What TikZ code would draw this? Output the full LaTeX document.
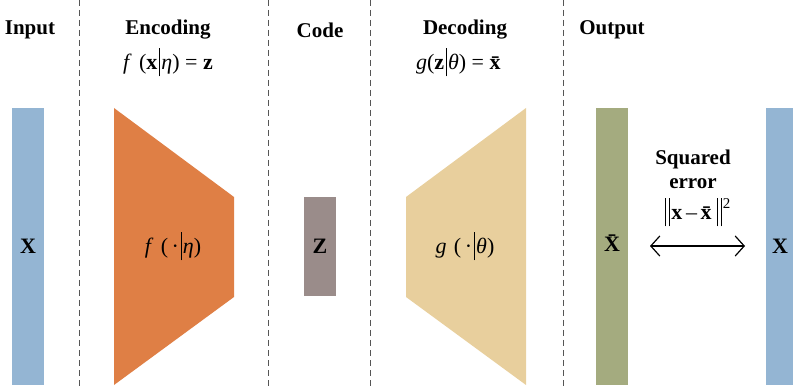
\documentclass[tikz,border=0pt]{standalone}
\usepackage{fontspec}
\setmainfont{Liberation Serif}
\usetikzlibrary{arrows.meta}
\definecolor{cblue}{HTML}{94B5D3}
\definecolor{corange}{HTML}{DF7F45}
\definecolor{cgray}{HTML}{9A8C8A}
\definecolor{csand}{HTML}{E8CF9D}
\definecolor{colive}{HTML}{A4AB7F}
\definecolor{cdash}{HTML}{555555}
\newcommand{\vbar}{\kern1.5pt\rule[-0.3em]{0.9pt}{1.3em}\kern1.5pt}
\newcommand{\dvbar}{\kern1.5pt\rule[-0.3em]{0.9pt}{1.3em}\kern3pt\rule[-0.3em]{0.9pt}{1.3em}\kern1.5pt}
\begin{document}
\begin{tikzpicture}[x=1pt,y=-1pt,
  title/.style={font=\fontsize{21}{24}\selectfont\bfseries, inner sep=0pt},
  formula/.style={font=\fontsize{22}{24}\selectfont, inner sep=0pt},
  bar/.style={draw=none, minimum width=32pt, inner sep=0pt, anchor=north west},
  sep/.style={draw=cdash, line width=0.8pt, dash pattern=on 6pt off 4pt},
  letter/.style={font=\fontsize{22}{24}\selectfont\bfseries, inner sep=0pt}]
\useasboundingbox (0,0) rectangle (793,390);
% separators
\foreach \x/\n in {79/a,268/b,370/c,563/d}{
  \coordinate (t\n) at (\x,0);
  \coordinate (b\n) at (\x,390);
  \draw[sep] (t\n) -- (b\n);
}
% titles
\node[title] (tin) at (30,30) {Input};
\node[title] (tenc) at (168,30) {Encoding};
\node[formula] (fenc) at (168,62) {\textit{f}\,\,(\textbf{x}\vbar\textit{η}) = \textbf{z}};
\node[title] (tcode) at (320,30) {Code};
\node[title] (tdec) at (465,30) {Decoding};
\node[formula] (fdec) at (460,62) {\textit{g}(\textbf{z}\vbar\textit{θ}) = \textbf{\=x}};
\node[title] (tout) at (612,30) {Output};
% bars
\node[bar, fill=cblue, minimum height=277pt] (inbar) at (12,108) {};
\node[bar, fill=cgray, minimum height=99pt] (codebar) at (304,197) {};
\node[bar, fill=colive, minimum height=277pt] (outbar) at (596,108) {};
\node[bar, fill=cblue, minimum height=277pt] (rbar) at (766,108) {};
% trapezoids
\fill[corange] (114,108) -- (234,197) -- (234,297) -- (114,385) -- cycle;
\fill[csand] (406,197) -- (526,108) -- (526,385) -- (406,297) -- cycle;
% labels
\node[letter] (lx) at (28,246) {X};
\node[formula] (lf) at (173,246) {\textit{f}\,\,(\,·\vbar\textit{η})};
\node[letter] (lz) at (320,246) {Z};
\node[formula] (lg) at (465,246) {\textit{g}\,\,(\,·\vbar\textit{θ})};
\node[letter] (lxb) at (612,243) {\=X};
\node[letter] (lxr) at (780,246) {X};
% squared error
\node[title, align=center] (sq) at (693,169) {Squared\\error};
\node[formula] (norm) at (697,212) {\dvbar\textbf{x}\,–\,\textbf{\=x}\dvbar\raisebox{0.5em}{\fontsize{15}{16}\selectfont 2}};
\coordinate (al) at (650,246);
\coordinate (ar) at (745,246);
\draw[line width=1.2pt, {Straight Barb[length=9pt,width=20pt]}-{Straight Barb[length=9pt,width=20pt]}] (al) -- (ar);
\end{tikzpicture}
\end{document}
